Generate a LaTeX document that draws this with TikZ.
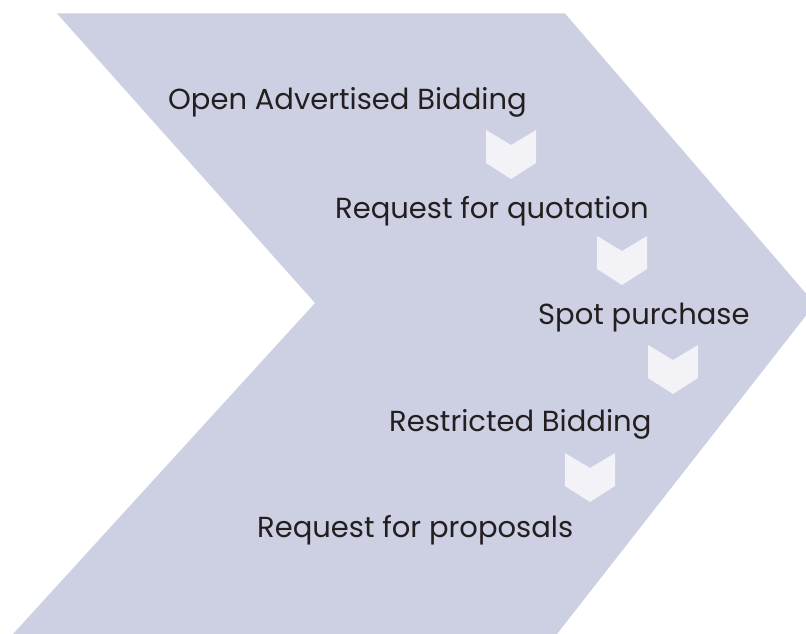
\documentclass[tikz,border=0pt]{standalone}
\usepackage{fontspec}
\setmainfont{Poppins}
\definecolor{band}{HTML}{CDD0E3}
\definecolor{arrowc}{HTML}{F2F2F7}
\definecolor{txt}{HTML}{231F20}
\begin{document}
\begin{tikzpicture}[x=1pt,y=-1pt,
  lbl/.style={anchor=base west, inner sep=0pt, text=txt, font=\fontsize{29}{32}\selectfont},
  downchev/.style={fill=arrowc}]
\useasboundingbox (0,0) rectangle (806,634);
\begin{scope}
\clip (0,0) rectangle (806,634);
\fill[band] (57,13.5) -- (565,13.5) -- (815,304) -- (557,634) -- (13,634) -- (315,303) -- cycle;
\end{scope}
\node[lbl] (t1) at (168,109) {Open Advertised Bidding};
\node[lbl] (t2) at (335,218) {Request for quotation};
\node[lbl] (t3) at (538,324) {Spot purchase};
\node[lbl] (t4) at (389,431) {Restricted Bidding};
\node[lbl] (t5) at (257,537) {Request for proposals};
\coordinate (c1) at (511,130);
\coordinate (c2) at (622,236);
\coordinate (c3) at (673,345);
\coordinate (c4) at (590,453);
\foreach \c in {c1,c2,c3,c4}{
  \fill[downchev,shift={(\c)}] (-25,0) -- (0,15) -- (25,0) -- (25,33) -- (0,49) -- (-25,33) -- cycle;
}
\end{tikzpicture}
\end{document}
